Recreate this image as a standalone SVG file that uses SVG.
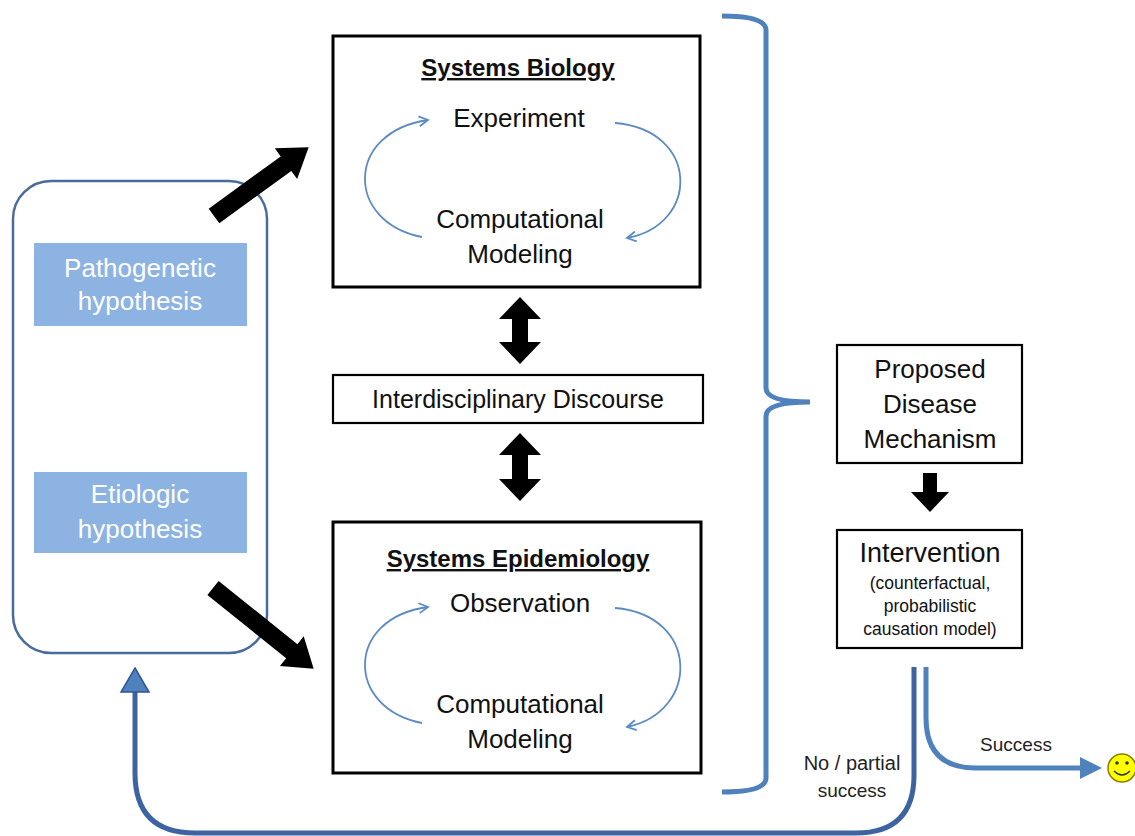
<svg xmlns="http://www.w3.org/2000/svg" width="1135" height="836" viewBox="0 0 1135 836">
<style>
text { font-family: "Liberation Sans", Arial, sans-serif; fill: #111; text-anchor: middle; }
.t26 { font-size: 26px; }
.title { font-size: 24px; font-weight: bold; text-decoration: underline; }
.hyp { font-size: 26px; fill: #ffffff; }
.small { font-size: 17.5px; }
.lbl { font-size: 19px; fill: #222; }
.box { fill: #ffffff; stroke: #000; stroke-width: 3; }
.box2 { fill: #ffffff; stroke: #000; stroke-width: 2.2; }
.hbox { fill: #8db3e2; stroke: none; }
.cyc { fill: none; stroke: #5b8bc2; stroke-width: 1.8; }
.blk { fill: #000; }
.blue { fill: none; stroke: #4f81bd; stroke-width: 5; }
.dblue { fill: none; stroke: #3d64a0; stroke-width: 5; }
</style>
<defs>
<marker id="chev" viewBox="0 0 12 12" refX="10" refY="6" markerWidth="12" markerHeight="12" markerUnits="userSpaceOnUse" orient="auto">
<path d="M1,1 L10,6 L1,11" fill="none" stroke="#5b8bc2" stroke-width="1.8"/>
</marker>
</defs>
<rect width="1135" height="836" fill="#ffffff"/>

<g id="hypotheses">
<rect x="13" y="181" width="254" height="472" rx="38" fill="none" stroke="#4a6c9c" stroke-width="2.5"/>
<g id="pathogenetic">
<rect class="hbox" x="34" y="243" width="213" height="83"/>
<text class="hyp" x="140" y="277">Pathogenetic</text>
<text class="hyp" x="140" y="310">hypothesis</text>
</g>
<g id="etiologic">
<rect class="hbox" x="34" y="472" width="213" height="81"/>
<text class="hyp" x="140" y="503">Etiologic</text>
<text class="hyp" x="140" y="538">hypothesis</text>
</g>
</g>

<g id="systems-biology">
<rect class="box" x="333" y="36" width="367" height="251"/>
<text class="title" x="518" y="76">Systems Biology</text>
<text class="t26" x="519" y="127">Experiment</text>
<text class="t26" x="520" y="228">Computational</text>
<text class="t26" x="520" y="263">Modeling</text>
</g>

<g id="interdisciplinary">
<rect class="box2" x="333" y="375" width="370" height="48"/>
<text class="t26" x="518" y="408" style="font-size:25px">Interdisciplinary Discourse</text>
</g>

<g id="systems-epidemiology">
<rect class="box" x="333" y="522" width="368" height="251"/>
<text class="title" x="518" y="567">Systems Epidemiology</text>
<text class="t26" x="520" y="612">Observation</text>
<text class="t26" x="520" y="713">Computational</text>
<text class="t26" x="520" y="748">Modeling</text>
</g>

<g id="proposed">
<rect class="box2" x="837" y="345" width="185" height="118"/>
<text class="t26" x="930" y="378">Proposed</text>
<text class="t26" x="930" y="413">Disease</text>
<text class="t26" x="930" y="448">Mechanism</text>
</g>

<g id="intervention">
<rect class="box2" x="837" y="530" width="185" height="118"/>
<text class="t26" x="930" y="562" style="font-size:27px">Intervention</text>
<text class="small" x="930" y="589">(counterfactual,</text>
<text class="small" x="930" y="612">probabilistic</text>
<text class="small" x="930" y="635">causation model)</text>
</g>

<g id="smiley">
<circle cx="1122" cy="768" r="14" fill="#ffff00" stroke="#8a8000" stroke-width="1.5"/>
<circle cx="1117" cy="763" r="1.8" fill="#333"/>
<circle cx="1127" cy="763" r="1.8" fill="#333"/>
<path d="M1114,771 Q1122,779 1130,771" fill="none" stroke="#333" stroke-width="1.5"/>
</g>

<g id="connectors">
<path class="cyc" d="M422,237 C345,222 345,132 428,120" marker-end="url(#chev)"/>
<path class="cyc" d="M615,123 C700,130 700,225 627,238" marker-end="url(#chev)"/>
<path class="cyc" d="M422,723 C345,708 345,618 428,607" marker-end="url(#chev)"/>
<path class="cyc" d="M615,608 C700,615 700,712 627,727" marker-end="url(#chev)"/>
<polygon class="blk" transform="translate(214,216) rotate(-36)" points="0,-9 89,-9 89,-19 117,0 89,19 89,9 0,9"/>
<polygon class="blk" transform="translate(213,588) rotate(38.7)" points="0,-9 101,-9 101,-19 129,0 101,19 101,9 0,9"/>
<polygon class="blk" points="520,297 541,319 528,319 528,342 541,342 520,364 499,342 512,342 512,319 499,319"/>
<polygon class="blk" points="520,433 541,455 528,455 528,479 541,479 520,501 499,479 512,479 512,455 499,455"/>
<polygon class="blk" points="923,473 937,473 937,492 949,492 930,512 911,492 923,492"/>
<path class="blue" d="M722,16 Q766,16 766,30 V388 Q766,402 810,402 Q766,402 766,416 V778 Q766,792 722,792"/>
<path class="dblue" d="M914,667 V775 Q914,833 856,833 H195 Q135,833 135,773 V690"/>
<polygon points="135,668 149,692 121,692" fill="#4f81bd" stroke="#2f5597" stroke-width="1.5"/>
<path class="blue" d="M926,667 V718 Q926,768 976,768 H1082"/>
<polygon points="1102,768 1080,757 1080,779" fill="#4f81bd"/>
</g>

<g id="labels">
<text class="lbl" x="1016" y="751">Success</text>
<text class="lbl" x="852" y="770" style="font-size:20px">No / partial</text>
<text class="lbl" x="852" y="797">success</text>
</g>
</svg>
